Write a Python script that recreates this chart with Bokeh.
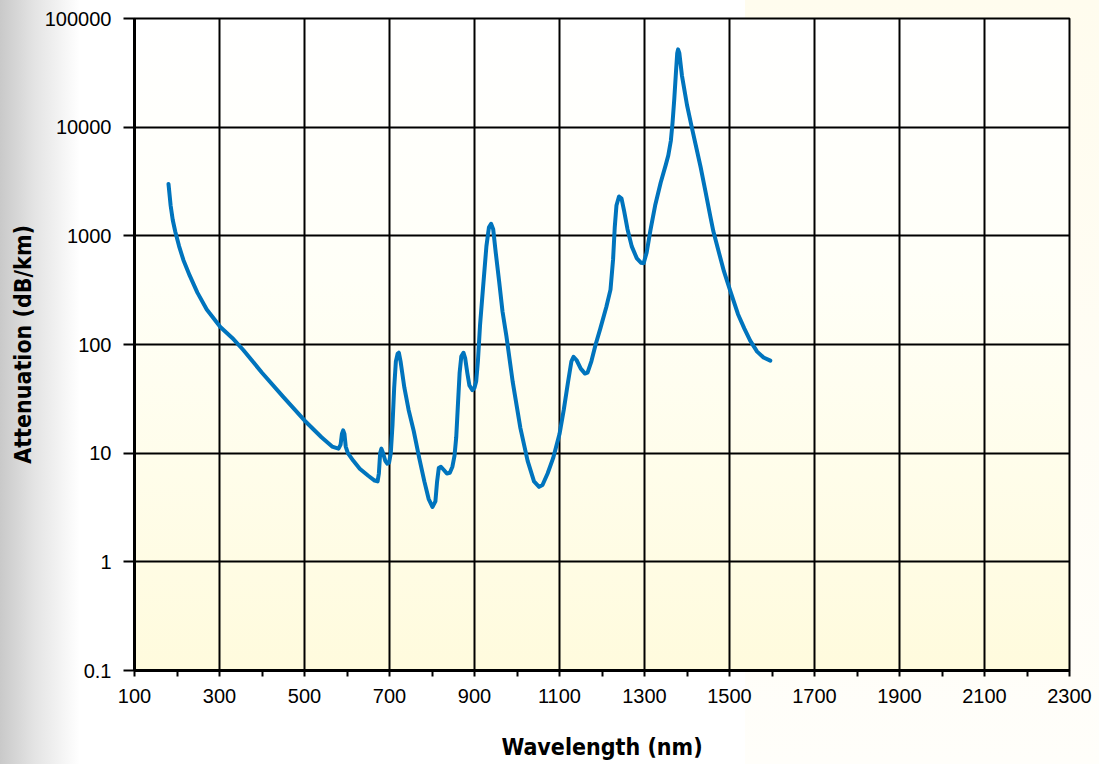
from bokeh.plotting import figure
from bokeh.models import Range1d, FixedTicker, CustomJSTickFormatter
from bokeh.embed import file_html
from bokeh.resources import INLINE

# ---- data ----
wavelength_nm = [
    180, 185, 190, 196, 205, 215, 230, 248, 270, 302, 330, 356, 400, 450, 500,
    540, 565, 580, 585, 588, 591, 594, 597, 602, 615, 630, 650, 665, 672, 675,
    678, 681, 685, 690, 695, 699, 703, 707, 711, 715, 719, 722, 726, 735, 745,
    757, 770, 782, 792, 801, 808, 812, 816, 821, 828, 835, 842, 848, 853, 857,
    861, 865, 869, 874, 878, 883, 888, 895, 900, 904, 908, 913, 920, 928, 934,
    939, 944, 950, 958, 966, 975, 990, 1008, 1025, 1040, 1052, 1060, 1072, 1085,
    1100, 1110, 1120, 1128, 1133, 1140, 1150, 1160, 1166, 1175, 1185, 1196, 1210,
    1220, 1226, 1230, 1234, 1240, 1246, 1252, 1260, 1270, 1282, 1292, 1298, 1305,
    1314, 1325, 1338, 1350, 1356, 1362, 1366, 1370, 1374, 1377, 1379, 1382, 1388,
    1400, 1410, 1420, 1432, 1444, 1455, 1462, 1472, 1487, 1502, 1520, 1535, 1549,
    1565, 1580, 1596,
]
attenuation_db_km = [
    3000, 1900, 1400, 1090, 800, 600, 430, 300, 210, 145, 115, 89, 55, 33, 20,
    14, 11.5, 11, 12, 15, 16.2, 15, 11.5, 10, 8.5, 7.2, 6.2, 5.6, 5.5, 6.5,
    10, 11, 10, 8.5, 8, 8.2, 10, 18, 40, 70, 82, 84, 70, 40, 25,
    16, 9, 5.5, 3.8, 3.2, 3.6, 5.5, 7.3, 7.5, 7, 6.5, 6.6, 7.5, 9.5, 14,
    28, 55, 78, 84, 75, 55, 42, 38, 40, 46, 70, 150, 330, 800, 1200,
    1290, 1150, 700, 380, 200, 120, 45, 17, 8.5, 5.5, 4.9, 5.1, 6.5, 9,
    15, 25, 45, 70, 77, 72, 60, 54, 55, 70, 100, 140, 220,
    320, 600, 1200, 1900, 2300, 2200, 1700, 1150, 800, 620, 565, 560, 700,
    1130, 1900, 3080, 4500, 5500, 7500, 11000, 18000, 32000, 48000, 52000, 48000, 30000,
    16000, 10500, 7000, 4300, 2500, 1500, 1100, 780, 470, 310, 190, 140, 108,
    86, 76, 71,
]

x_major_ticks = [100, 300, 500, 700, 900, 1100, 1300, 1500, 1700, 1900, 2100, 2300]
x_minor_ticks = [200, 400, 600, 800, 1000, 1200, 1400, 1600, 1800, 2000, 2200]
y_ticks = [0.1, 1, 10, 100, 1000, 10000, 100000]

x_label = "Wavelength (nm)"
y_label = "Attenuation (dB/km)"

LABEL_FONT = "'Liberation Sans Narrow', 'Arial Narrow', 'DejaVu Sans Condensed', 'Roboto Condensed', 'Liberation Sans', sans-serif"

# ---- figure ----
p = figure(
    output_backend="svg", toolbar_location=None,
    y_axis_type="log",
    x_range=Range1d(100, 2300), y_range=Range1d(0.1, 100000),
    frame_width=935, frame_height=652,
    min_border_left=134, min_border_right=30, min_border_top=18, min_border_bottom=94,
)

p.border_fill_color = None
p.background_fill_color = None
p.styles = {
    "background": (
        "linear-gradient(to bottom, #ffffff 0%, #fffff7 40%, #fffbdd 100%) 134px 18px / 935px 652px no-repeat, "
        "linear-gradient(to bottom, #fffcee 0%, #fffefa 100%) 745px 0px / 400px 100% no-repeat, "
        "linear-gradient(to right, #c9c9c9 0px, #e4e4e4 35px, #ffffff 80px)"
    )
}
p.outline_line_color = "black"
p.outline_line_width = 2
p.outline_line_alpha = 1

p.line(wavelength_nm, attenuation_db_km, line_color="#0074BD", line_width=4,
       line_join="round", line_cap="round")

# x axis
xt = FixedTicker(ticks=x_major_ticks, minor_ticks=x_minor_ticks)
p.xaxis.ticker = xt
p.xgrid.ticker = xt
p.xaxis.axis_label = x_label
p.xaxis.axis_line_color = "black"
p.xaxis.axis_line_width = 3
p.xaxis.major_tick_line_color = "black"
p.xaxis.major_tick_line_width = 2
p.xaxis.major_tick_in = 0
p.xaxis.major_tick_out = 6
p.xaxis.minor_tick_line_color = "black"
p.xaxis.minor_tick_line_width = 2
p.xaxis.minor_tick_in = 0
p.xaxis.minor_tick_out = 6
p.xaxis.major_label_standoff = 12
p.xaxis.axis_label_standoff = 28

# y axis
yt = FixedTicker(ticks=y_ticks, minor_ticks=[])
p.yaxis.ticker = yt
p.ygrid.ticker = yt
p.yaxis.formatter = CustomJSTickFormatter(code="return tick < 1 ? tick.toFixed(1) : tick.toFixed(0);")
p.yaxis.axis_label = y_label
p.yaxis.axis_line_color = "black"
p.yaxis.axis_line_width = 3
p.yaxis.major_tick_line_color = "black"
p.yaxis.major_tick_line_width = 2
p.yaxis.major_tick_in = 0
p.yaxis.major_tick_out = 11
p.yaxis.minor_tick_line_color = None
p.yaxis.major_label_standoff = 12
p.yaxis.axis_label_standoff = 6

for ax in (p.xaxis, p.yaxis):
    ax.major_label_text_font = "Liberation Sans"
    ax.major_label_text_font_size = "20px"
    ax.major_label_text_color = "black"
    ax.axis_label_text_font = LABEL_FONT
    ax.axis_label_text_font_style = "bold"
    ax.axis_label_text_font_size = "23px"
    ax.axis_label_text_color = "black"

for g in (p.xgrid, p.ygrid):
    g.grid_line_color = "black"
    g.grid_line_width = 2
    g.grid_line_alpha = 1

open("out.html", "w").write(file_html(p, INLINE))
